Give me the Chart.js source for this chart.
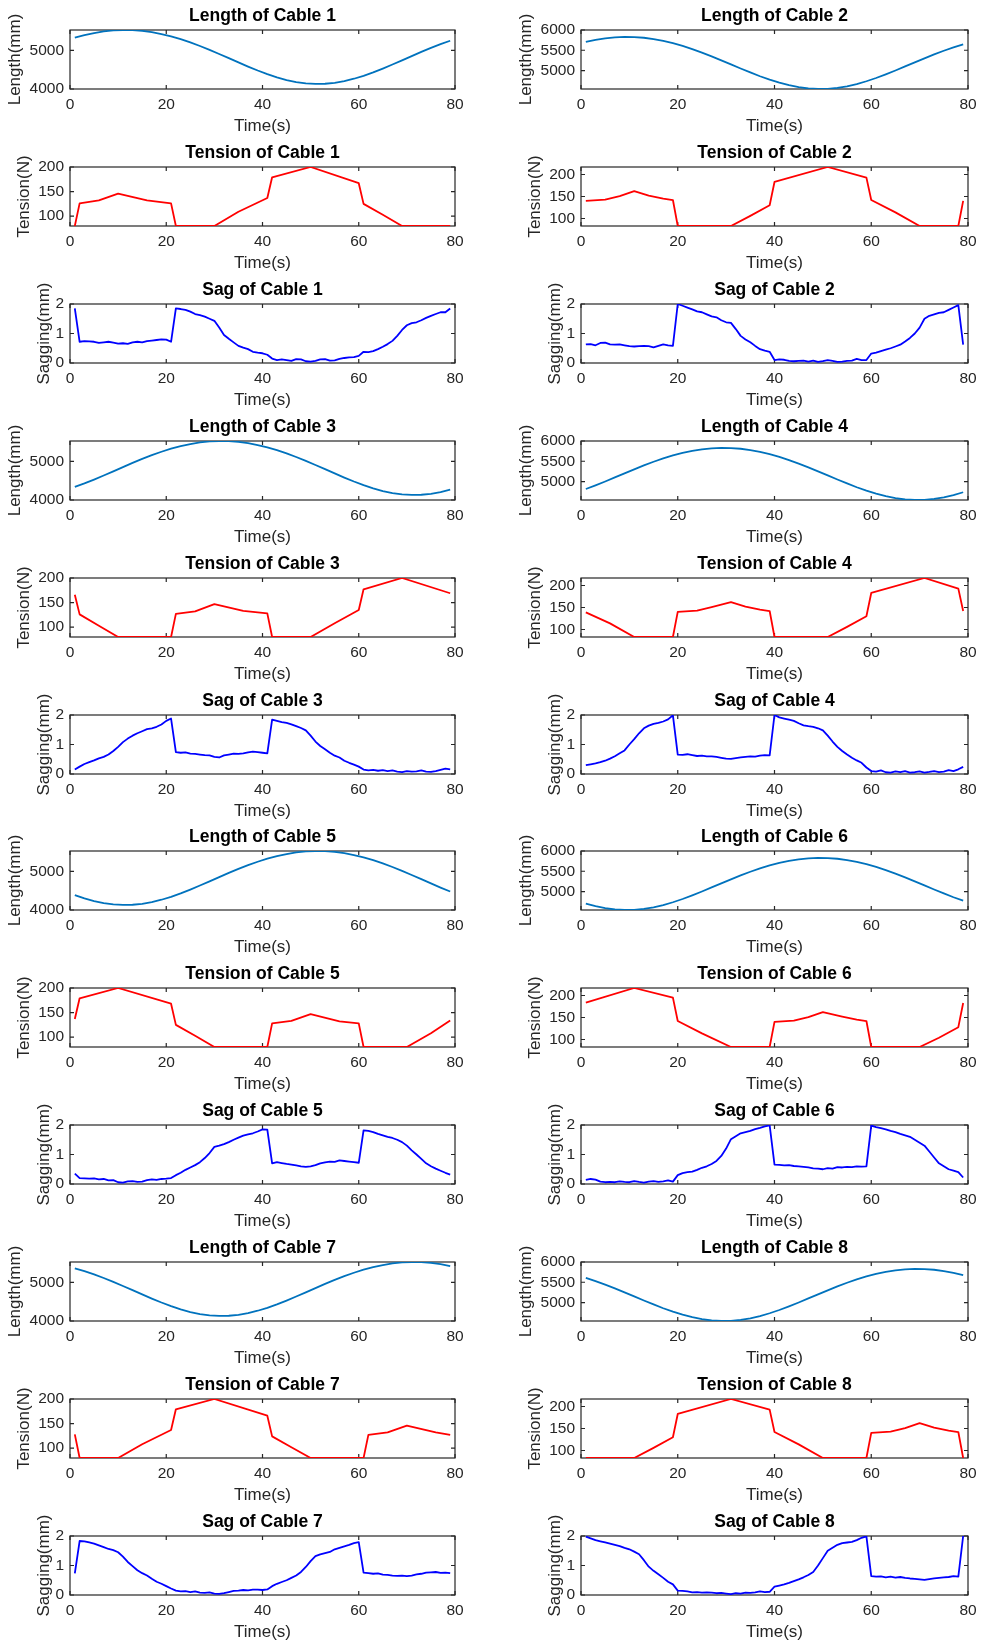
<!DOCTYPE html>
<html>
<head>
<meta charset="utf-8">
<title>Cable length, tension and sag</title>
<script src="https://cdn.jsdelivr.net/npm/chart.js@4.4.1/dist/chart.umd.min.js"></script>
<style>
  html, body { margin: 0; padding: 0; background: #fff; }
  #grid { position: relative; width: 985px; height: 1648px; }
  #grid canvas { position: absolute; }
</style>
</head>
<body>
<div id="grid"></div>
<script>
// sample times (s)
const lengthTime = [1, 3, 5, 7, 9, 11, 13, 15, 17, 19, 21, 23, 25, 27, 29, 31, 33, 35, 37, 39,
  41, 43, 45, 47, 49, 51, 53, 55, 57, 59, 61, 63, 65, 67, 69, 71, 73, 75, 77, 79];
const sagTime = Array.from({ length: 79 }, (_, i) => i + 1);
const timeTicks = [0, 20, 40, 60, 80];

// cable lengths (mm)
const length1 = [5330, 5397, 5451, 5492, 5518, 5530, 5526, 5507, 5474, 5426,
  5365, 5292, 5208, 5115, 5014, 4908, 4799, 4689, 4582, 4479,
  4385, 4302, 4233, 4181, 4146, 4131, 4136, 4161, 4205, 4266,
  4342, 4431, 4530, 4635, 4744, 4853, 4961, 5065, 5162, 5251];
const length3 = [4342, 4431, 4530, 4635, 4744, 4853, 4961, 5065, 5162, 5251,
  5330, 5397, 5451, 5492, 5518, 5530, 5526, 5507, 5474, 5426,
  5365, 5292, 5208, 5115, 5014, 4908, 4799, 4689, 4582, 4479,
  4385, 4302, 4233, 4181, 4146, 4131, 4136, 4161, 4205, 4266];
const length5 = [4385, 4302, 4233, 4181, 4146, 4131, 4136, 4161, 4205, 4266,
  4342, 4431, 4530, 4635, 4744, 4853, 4961, 5065, 5162, 5251,
  5330, 5397, 5451, 5492, 5518, 5530, 5526, 5507, 5474, 5426,
  5365, 5292, 5208, 5115, 5014, 4908, 4799, 4689, 4582, 4479];
const length7 = [5365, 5292, 5208, 5115, 5014, 4908, 4799, 4689, 4582, 4479,
  4385, 4302, 4233, 4181, 4146, 4131, 4136, 4161, 4205, 4266,
  4342, 4431, 4530, 4635, 4744, 4853, 4961, 5065, 5162, 5251,
  5330, 5397, 5451, 5492, 5518, 5530, 5526, 5507, 5474, 5426];
const length2 = [5706, 5757, 5795, 5819, 5830, 5826, 5809, 5777, 5733, 5676,
  5608, 5530, 5443, 5350, 5252, 5152, 5051, 4953, 4860, 4775,
  4700, 4638, 4590, 4559, 4546, 4550, 4572, 4612, 4667, 4736,
  4816, 4906, 5002, 5101, 5202, 5302, 5397, 5488, 5570, 5643];
const length4 = [4816, 4906, 5002, 5101, 5202, 5302, 5397, 5488, 5570, 5643,
  5706, 5757, 5795, 5819, 5830, 5826, 5809, 5777, 5733, 5676,
  5608, 5530, 5443, 5350, 5252, 5152, 5051, 4953, 4860, 4775,
  4700, 4638, 4590, 4559, 4546, 4550, 4572, 4612, 4667, 4736];
const length6 = [4700, 4638, 4590, 4559, 4546, 4550, 4572, 4612, 4667, 4736,
  4816, 4906, 5002, 5101, 5202, 5302, 5397, 5488, 5570, 5643,
  5706, 5757, 5795, 5819, 5830, 5826, 5809, 5777, 5733, 5676,
  5608, 5530, 5443, 5350, 5252, 5152, 5051, 4953, 4860, 4775];
const length8 = [5608, 5530, 5443, 5350, 5252, 5152, 5051, 4953, 4860, 4775,
  4700, 4638, 4590, 4559, 4546, 4550, 4572, 4612, 4667, 4736,
  4816, 4906, 5002, 5101, 5202, 5302, 5397, 5488, 5570, 5643,
  5706, 5757, 5795, 5819, 5830, 5826, 5809, 5777, 5733, 5676];

// cable tensions (N), given at the break points of each curve
const tension1Time = [1, 2, 6, 10, 16, 21, 22, 30, 35, 41, 42, 50, 60, 61, 65, 69, 79];
const tension1 = [80, 126, 132, 146, 132, 126, 80, 80, 109, 137, 179, 200, 167, 125, 103, 80, 80];
const tension3Time = [1, 2, 6, 10, 21, 22, 26, 30, 36, 41, 42, 50, 55, 60, 61, 69, 79];
const tension3 = [166, 126, 103, 80, 80, 127, 132, 147, 133, 128, 80, 80, 108, 135, 177, 200, 169];
const tension5Time = [1, 2, 10, 21, 22, 26, 30, 41, 42, 46, 50, 56, 60, 61, 70, 75, 79];
const tension5 = [137, 179, 200, 168, 125, 103, 80, 80, 128, 133, 147, 132, 128, 80, 80, 108, 134];
const tension7Time = [1, 2, 10, 15, 21, 22, 30, 41, 42, 46, 50, 61, 62, 66, 70, 76, 79];
const tension7 = [128, 80, 80, 108, 137, 179, 200, 166, 124, 102, 80, 80, 127, 132, 146, 132, 127];
const tension2Time = [1, 5, 8, 11, 14, 17, 19, 20, 31, 35, 39, 40, 51, 59, 60, 65, 70, 78, 79];
const tension2 = [140, 143, 151, 162, 152, 145, 142, 83, 83, 106, 130, 183, 217, 193, 142, 114, 83, 83, 140];
const tension4Time = [1, 6, 11, 19, 20, 24, 27, 31, 34, 37, 39, 40, 51, 55, 59, 60, 71, 78, 79];
const tension4 = [139, 114, 83, 83, 140, 143, 151, 162, 152, 145, 142, 83, 83, 106, 130, 183, 217, 193, 142];
const tension6Time = [1, 11, 19, 20, 25, 31, 39, 40, 44, 47, 50, 54, 57, 59, 60, 70, 74, 78, 79];
const tension6 = [184, 217, 195, 142, 114, 83, 83, 140, 143, 151, 162, 152, 145, 142, 83, 83, 104, 128, 183];
const tension8Time = [1, 11, 15, 19, 20, 31, 39, 40, 45, 50, 59, 60, 64, 67, 70, 73, 76, 78, 79];
const tension8 = [83, 83, 106, 130, 183, 217, 193, 142, 114, 83, 83, 140, 143, 151, 162, 152, 145, 142, 83];

// cable sag (mm), one value per second
const sag1 = [1.85, 0.72, 0.74, 0.73, 0.72, 0.68, 0.70, 0.72, 0.69, 0.66,
  0.67, 0.65, 0.70, 0.72, 0.70, 0.74, 0.76, 0.78, 0.80, 0.79,
  0.72, 1.85, 1.83, 1.80, 1.74, 1.66, 1.62, 1.57, 1.50, 1.43,
  1.20, 0.95, 0.82, 0.70, 0.58, 0.52, 0.47, 0.38, 0.35, 0.33,
  0.28, 0.15, 0.10, 0.12, 0.10, 0.07, 0.13, 0.12, 0.06, 0.05,
  0.07, 0.12, 0.13, 0.08, 0.09, 0.14, 0.17, 0.19, 0.20, 0.24,
  0.38, 0.37, 0.40, 0.47, 0.55, 0.64, 0.75, 0.92, 1.12, 1.28,
  1.35, 1.38, 1.45, 1.53, 1.60, 1.66, 1.72, 1.72, 1.85];
const sag2 = [0.63, 0.64, 0.60, 0.68, 0.69, 0.63, 0.62, 0.63, 0.60, 0.57,
  0.56, 0.57, 0.58, 0.57, 0.53, 0.58, 0.63, 0.60, 0.58, 2.00,
  1.94, 1.88, 1.82, 1.75, 1.72, 1.65, 1.58, 1.55, 1.45, 1.38,
  1.36, 1.15, 0.92, 0.80, 0.70, 0.58, 0.47, 0.42, 0.38, 0.10,
  0.12, 0.11, 0.07, 0.06, 0.07, 0.08, 0.05, 0.08, 0.04, 0.06,
  0.10, 0.07, 0.04, 0.05, 0.07, 0.08, 0.14, 0.10, 0.10, 0.32,
  0.35, 0.40, 0.45, 0.50, 0.56, 0.62, 0.73, 0.85, 1.00, 1.20,
  1.50, 1.60, 1.65, 1.70, 1.72, 1.80, 1.88, 1.96, 0.62];
const sag3 = [0.15, 0.25, 0.34, 0.40, 0.46, 0.53, 0.58, 0.66, 0.78, 0.92,
  1.08, 1.20, 1.30, 1.38, 1.45, 1.52, 1.55, 1.60, 1.68, 1.80,
  1.88, 0.74, 0.72, 0.73, 0.69, 0.68, 0.66, 0.64, 0.63, 0.58,
  0.56, 0.63, 0.66, 0.69, 0.68, 0.70, 0.73, 0.76, 0.74, 0.72,
  0.70, 1.84, 1.80, 1.76, 1.73, 1.68, 1.62, 1.56, 1.48, 1.30,
  1.10, 0.95, 0.84, 0.72, 0.62, 0.56, 0.45, 0.38, 0.32, 0.25,
  0.15, 0.12, 0.14, 0.11, 0.13, 0.10, 0.12, 0.08, 0.06, 0.10,
  0.08, 0.09, 0.12, 0.08, 0.07, 0.10, 0.14, 0.18, 0.16];
const sag4 = [0.30, 0.33, 0.36, 0.40, 0.45, 0.52, 0.60, 0.70, 0.80, 1.00,
  1.18, 1.38, 1.55, 1.64, 1.70, 1.73, 1.78, 1.85, 1.99, 0.66,
  0.65, 0.67, 0.64, 0.61, 0.62, 0.60, 0.60, 0.58, 0.55, 0.52,
  0.51, 0.54, 0.56, 0.58, 0.60, 0.59, 0.62, 0.64, 0.63, 2.00,
  1.92, 1.88, 1.84, 1.80, 1.72, 1.65, 1.62, 1.60, 1.55, 1.48,
  1.30, 1.10, 0.92, 0.78, 0.66, 0.55, 0.46, 0.38, 0.22, 0.10,
  0.08, 0.12, 0.06, 0.05, 0.09, 0.06, 0.10, 0.05, 0.06, 0.09,
  0.05, 0.07, 0.10, 0.06, 0.08, 0.13, 0.10, 0.16, 0.24];
const sag5 = [0.35, 0.20, 0.19, 0.18, 0.19, 0.16, 0.17, 0.12, 0.13, 0.06,
  0.05, 0.09, 0.10, 0.07, 0.08, 0.13, 0.16, 0.14, 0.17, 0.18,
  0.20, 0.30, 0.38, 0.48, 0.56, 0.64, 0.74, 0.88, 1.05, 1.26,
  1.30, 1.35, 1.42, 1.50, 1.57, 1.64, 1.68, 1.72, 1.78, 1.85,
  1.84, 0.70, 0.74, 0.71, 0.68, 0.66, 0.63, 0.60, 0.58, 0.60,
  0.64, 0.70, 0.73, 0.76, 0.75, 0.80, 0.78, 0.76, 0.74, 0.72,
  1.82, 1.80, 1.76, 1.70, 1.65, 1.60, 1.56, 1.50, 1.42, 1.30,
  1.14, 1.00, 0.85, 0.70, 0.60, 0.52, 0.45, 0.38, 0.32];
const sag6 = [0.14, 0.17, 0.15, 0.08, 0.06, 0.07, 0.06, 0.09, 0.07, 0.06,
  0.10, 0.07, 0.05, 0.08, 0.10, 0.07, 0.09, 0.12, 0.08, 0.30,
  0.37, 0.40, 0.42, 0.48, 0.55, 0.60, 0.68, 0.78, 0.95, 1.20,
  1.52, 1.62, 1.72, 1.76, 1.80, 1.86, 1.90, 1.95, 1.99, 0.66,
  0.65, 0.63, 0.64, 0.61, 0.60, 0.58, 0.56, 0.53, 0.52, 0.50,
  0.54, 0.52, 0.57, 0.56, 0.58, 0.57, 0.60, 0.59, 0.60, 1.98,
  1.93, 1.89, 1.85, 1.80, 1.76, 1.70, 1.65, 1.60, 1.50, 1.40,
  1.30, 1.10, 0.90, 0.70, 0.60, 0.50, 0.45, 0.40, 0.22];
const sag7 = [0.73, 1.83, 1.82, 1.78, 1.74, 1.68, 1.62, 1.56, 1.52, 1.45,
  1.30, 1.12, 0.98, 0.84, 0.74, 0.66, 0.55, 0.45, 0.38, 0.30,
  0.22, 0.15, 0.12, 0.13, 0.10, 0.12, 0.08, 0.07, 0.09, 0.05,
  0.04, 0.06, 0.10, 0.14, 0.15, 0.17, 0.16, 0.18, 0.18, 0.17,
  0.19, 0.30, 0.38, 0.44, 0.50, 0.58, 0.66, 0.78, 0.95, 1.15,
  1.32, 1.38, 1.42, 1.46, 1.55, 1.60, 1.65, 1.70, 1.76, 1.79,
  0.76, 0.74, 0.72, 0.73, 0.69, 0.68, 0.66, 0.65, 0.66, 0.64,
  0.66, 0.70, 0.72, 0.76, 0.77, 0.78, 0.75, 0.76, 0.74];
const sag8 = [1.98, 1.92, 1.86, 1.82, 1.78, 1.74, 1.70, 1.66, 1.60, 1.55,
  1.47, 1.38, 1.18, 0.96, 0.82, 0.70, 0.58, 0.45, 0.36, 0.15,
  0.14, 0.12, 0.09, 0.10, 0.08, 0.09, 0.08, 0.06, 0.07, 0.05,
  0.03, 0.06, 0.05, 0.08, 0.07, 0.09, 0.12, 0.10, 0.11, 0.28,
  0.32, 0.36, 0.41, 0.47, 0.53, 0.60, 0.68, 0.78, 1.00, 1.25,
  1.50, 1.60, 1.70, 1.76, 1.78, 1.80, 1.86, 1.94, 1.99, 0.64,
  0.62, 0.63, 0.60, 0.62, 0.59, 0.61, 0.58, 0.56, 0.55, 0.53,
  0.51, 0.54, 0.56, 0.58, 0.60, 0.61, 0.64, 0.62, 2.00];

// axis limits and tick labels; index 0 = left column (odd cables), 1 = right column
const lengthRange = [[4000, 5530], [4545, 6000]];
const lengthTicks = [[4000, 5000], [5000, 5500, 6000]];
const tensionRange = [[80, 200], [83, 217]];
const tensionTicks = [100, 150, 200];
const sagRange = [0, 2];
const sagTicks = [0, 1, 2];

const lengths = [length1, length2, length3, length4, length5, length6, length7, length8];
const tensionTimes = [tension1Time, tension2Time, tension3Time, tension4Time,
  tension5Time, tension6Time, tension7Time, tension8Time];
const tensions = [tension1, tension2, tension3, tension4, tension5, tension6, tension7, tension8];
const sags = [sag1, sag2, sag3, sag4, sag5, sag6, sag7, sag8];

Chart.defaults.font.family = '"Liberation Sans", Arial, Helvetica, sans-serif';
const axisColor = '#262626';

// box around the plot with short inward ticks on all four sides
const axesBox = {
  id: 'axesBox',
  beforeDatasetsDraw(chart) {
    const { ctx, chartArea: a, scales: { x, y } } = chart;
    const len = 4;
    ctx.save();
    ctx.strokeStyle = axisColor;
    ctx.lineWidth = 1.2;
    ctx.strokeRect(a.left, a.top, a.right - a.left, a.bottom - a.top);
    ctx.beginPath();
    x.ticks.forEach(t => {
      const px = x.getPixelForValue(t.value);
      ctx.moveTo(px, a.bottom); ctx.lineTo(px, a.bottom - len);
      ctx.moveTo(px, a.top); ctx.lineTo(px, a.top + len);
    });
    y.ticks.forEach(t => {
      const py = y.getPixelForValue(t.value);
      ctx.moveTo(a.left, py); ctx.lineTo(a.left + len, py);
      ctx.moveTo(a.right, py); ctx.lineTo(a.right - len, py);
    });
    ctx.stroke();
    ctx.restore();
  }
};

function makePanel(row, col, title, yLabel, labelPad, color, xs, ys, range, ticks) {
  const canvas = document.createElement('canvas');
  const left = col === 0 ? 0 : 511;
  const width = col === 0 ? 490 : 474;
  canvas.width = width;
  canvas.height = 137;
  canvas.style.left = left + 'px';
  canvas.style.top = Math.round(136.9 * row) + 'px';
  document.getElementById('grid').appendChild(canvas);

  new Chart(canvas, {
    type: 'line',
    data: {
      datasets: [{
        data: xs.map((t, i) => ({ x: t, y: ys[i] })),
        borderColor: color,
        borderWidth: 1.8,
        borderJoinStyle: 'round',
        pointRadius: 0,
        tension: 0,
        fill: false
      }]
    },
    options: {
      responsive: false,
      animation: false,
      events: [],
      layout: { padding: { left: 0, top: 0, bottom: 0, right: col === 0 ? 35 : 17 } },
      plugins: {
        legend: { display: false },
        tooltip: { enabled: false },
        title: {
          display: true,
          text: title,
          fullSize: false,
          color: '#000',
          font: { size: 17.5, weight: 'bold' },
          padding: { top: 5.5, bottom: 3.5 }
        }
      },
      scales: {
        x: {
          type: 'linear',
          min: 0,
          max: 80,
          afterBuildTicks: s => { s.ticks = timeTicks.map(v => ({ value: v })); },
          afterFit: s => { s.height = 48; },
          grid: { display: false, drawTicks: false },
          border: { display: false },
          ticks: {
            padding: 6, color: axisColor, font: { size: 15.5 },
            maxRotation: 0, autoSkip: false, callback: v => String(v)
          },
          title: {
            display: true, text: 'Time(s)', color: axisColor,
            font: { size: 17 }, padding: { top: 0, bottom: 0 }
          }
        },
        y: {
          type: 'linear',
          min: range[0],
          max: range[1],
          afterBuildTicks: s => { s.ticks = ticks.map(v => ({ value: v })); },
          afterFit: s => { s.width = 70; },
          grid: { display: false, drawTicks: false },
          border: { display: false },
          ticks: { padding: 6, color: axisColor, font: { size: 15.5 }, callback: v => String(v) },
          title: {
            display: true, text: yLabel, color: axisColor,
            font: { size: 17 }, padding: { top: labelPad, bottom: 0 }
          }
        }
      }
    },
    plugins: [axesBox]
  });
}

for (let c = 0; c < 8; c++) {
  const col = c % 2;
  const row = Math.floor(c / 2) * 3;
  const n = c + 1;
  makePanel(row, col, 'Length of Cable ' + n, 'Length(mm)', 5.5, '#0072BD',
    lengthTime, lengths[c], lengthRange[col], lengthTicks[col]);
  makePanel(row + 1, col, 'Tension of Cable ' + n, 'Tension(N)', 14.5, '#FF0000',
    tensionTimes[c], tensions[c], tensionRange[col], tensionTicks);
  makePanel(row + 2, col, 'Sag of Cable ' + n, 'Sagging(mm)', 34, '#0000FF',
    sagTime, sags[c], sagRange, sagTicks);
}
</script>
</body>
</html>
